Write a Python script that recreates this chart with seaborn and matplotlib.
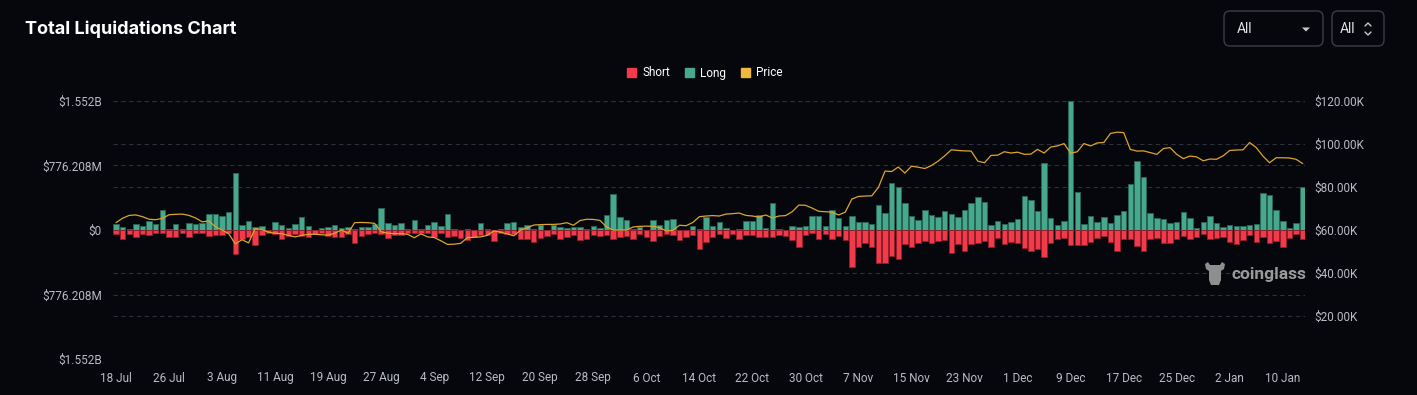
import numpy as np
import pandas as pd
import matplotlib.pyplot as plt
import seaborn as sns
from matplotlib.patches import FancyBboxPatch, Patch, Polygon
from matplotlib.lines import Line2D
from matplotlib.transforms import IdentityTransform

# daily liquidations (millions USD)
long_m = [72, 36, 16, 68, 48, 108, 72, 236, 10, 72, 16, 88, 72, 88, 192, 192, 172, 212, 686, 64,
          104, 36, 52, 5, 96, 64, 24, 68, 160, 52, 3, 28, 36, 56, 28, 32, 12, 36, 36, 76,
          264, 80, 60, 80, 8, 116, 8, 56, 92, 48, 196, 8, 4, 8, 3, 84, 12, 2, 8, 80,
          92, 36, 56, 16, 56, 3, 64, 36, 24, 36, 36, 12, 48, 24, 176, 433, 156, 120, 10, 32,
          5, 116, 64, 116, 128, 5, 5, 52, 8, 160, 48, 100, 20, 4, 12, 104, 108, 176, 20, 324,
          8, 4, 48, 40, 44, 172, 164, 48, 240, 144, 48, 164, 96, 100, 68, 296, 200, 561, 521, 321,
          168, 120, 240, 176, 156, 224, 188, 160, 236, 329, 397, 337, 60, 108, 72, 96, 132, 413, 365, 232,
          802, 144, 64, 108, 1552, 461, 72, 168, 92, 152, 80, 176, 228, 557, 830, 638, 200, 144, 128, 80,
          92, 212, 140, 24, 96, 164, 84, 40, 64, 48, 52, 56, 72, 445, 421, 240, 104, 28, 80, 513]

short_m = [48, 112, 52, 80, 48, 56, 40, 40, 84, 80, 32, 80, 40, 40, 72, 56, 56, 40, 292, 112,
           80, 180, 56, 40, 48, 112, 72, 48, 72, 80, 48, 40, 72, 80, 80, 48, 160, 72, 48, 32,
           48, 92, 56, 56, 40, 40, 40, 40, 80, 40, 88, 72, 100, 120, 80, 64, 64, 128, 32, 52,
           48, 104, 104, 144, 92, 68, 52, 104, 84, 56, 116, 104, 56, 68, 56, 104, 84, 68, 104, 48,
           80, 128, 72, 48, 64, 116, 80, 56, 228, 148, 80, 48, 92, 48, 104, 64, 64, 80, 88, 84,
           56, 68, 116, 208, 64, 40, 104, 52, 108, 68, 124, 448, 208, 152, 208, 400, 392, 312, 344, 168,
           208, 152, 136, 160, 132, 120, 280, 172, 252, 164, 160, 136, 208, 100, 172, 144, 160, 212, 248, 224,
           320, 156, 104, 92, 180, 176, 176, 144, 100, 72, 144, 248, 108, 108, 188, 248, 104, 96, 160, 160,
           104, 68, 104, 80, 48, 112, 100, 88, 144, 172, 116, 64, 148, 80, 156, 128, 200, 100, 52, 112]

# BTC price (thousands USD)
price_k = [63.4, 65.5, 66.8, 67.0, 66.2, 65.0, 64.8, 65.4, 67.1, 67.3, 67.4, 66.8, 65.6, 63.8, 64.2, 61.5, 60.0, 58.3, 53.5, 55.5,
           54.0, 60.7, 60.2, 59.0, 58.5, 58.3, 57.5, 56.8, 57.5, 58.0, 58.0, 57.8, 57.6, 58.5, 60.0, 58.5, 63.4, 63.5, 63.4, 63.1,
           59.2, 58.5, 58.3, 58.3, 58.0, 56.4, 58.2, 56.8, 56.5, 55.0, 53.3, 53.4, 53.8, 56.5, 56.6, 56.8, 57.5, 59.6, 59.0, 58.2,
           57.3, 59.9, 61.0, 62.3, 62.5, 62.6, 62.6, 62.8, 63.4, 62.2, 64.4, 65.0, 64.9, 64.5, 61.4, 60.0, 60.0, 60.0, 61.4, 61.7,
           61.8, 61.7, 61.1, 59.6, 59.8, 62.2, 62.0, 63.5, 66.2, 66.5, 66.7, 66.5, 67.4, 67.6, 67.9, 66.8, 66.5, 66.0, 67.0, 65.6,
           66.5, 66.7, 68.5, 71.6, 71.5, 70.2, 68.7, 68.5, 68.3, 67.0, 68.3, 74.4, 75.6, 75.8, 75.9, 79.8, 87.4, 87.2, 89.3, 86.5,
           89.7, 89.2, 88.6, 90.0, 92.0, 94.5, 97.3, 97.0, 96.8, 96.7, 92.0, 91.3, 94.7, 94.8, 96.4, 95.8, 96.2, 95.2, 95.3, 97.5,
           95.8, 98.6, 99.1, 100.2, 95.7, 96.4, 100.2, 99.1, 100.5, 100.7, 104.9, 105.5, 105.3, 97.5, 96.7, 96.8, 96.0, 95.2, 97.9, 98.3,
           95.2, 93.2, 94.4, 94.0, 92.2, 93.0, 92.9, 94.5, 97.0, 97.2, 97.3, 100.7, 98.3, 94.4, 91.3, 93.6, 93.6, 93.5, 92.9, 90.9]

dates = pd.date_range("2024-07-18", periods=len(long_m), freq="D")
tick_idx = list(range(0, len(dates), 8))
tick_labels = [f"{d.day} {d.strftime('%b')}" for d in dates[tick_idx]]

left_ticks = [-1.552e9, -776.208e6, 0, 776.208e6, 1.552e9]
left_labels = ["$1.552B", "$776.208M", "$0", "$776.208M", "$1.552B"]
right_ticks = [20000, 40000, 60000, 80000, 100000, 120000]
right_labels = ["$20.00K", "$40.00K", "$60.00K", "$80.00K", "$100.00K", "$120.00K"]

df = pd.DataFrame({
    "day": np.arange(len(dates)),
    "long": np.array(long_m) * 1e6,
    "short": -np.array(short_m) * 1e6,
    "price": np.array(price_k) * 1e3,
})

BG = "#05070c"
GREEN = "#47a88e"
RED = "#f23a4a"
GOLD = "#dca52c"
TXT = "#b9bcc3"
GRID = "#2c3038"

sns.set_theme(style="dark", rc={"figure.facecolor": BG, "axes.facecolor": BG})
plt.rcParams["font.family"] = ["Roboto", "DejaVu Sans"]

fig = plt.figure(figsize=(14.17, 3.95), dpi=100)
ax = fig.add_axes([113 / 1417, 36 / 395, 1192 / 1417, 258 / 395])

# gridlines behind the bars (left ticks and the price ticks of the right axis)
ymax = 1.552e9
for v in left_ticks:
    ax.axhline(v, color=GRID, lw=0.8, ls=(0, (4, 3)), zorder=0)
for p in right_ticks:
    ax.axhline(p / 120000 * 2 * ymax - ymax, color=GRID, lw=0.8, ls=(0, (4, 3)), zorder=0)

sns.barplot(data=df, x="day", y="long", color=GREEN, saturation=1, width=0.82,
            edgecolor="#256453", linewidth=0.7, ax=ax, zorder=2)
sns.barplot(data=df, x="day", y="short", color=RED, saturation=1, width=0.82,
            edgecolor="#8e1f2a", linewidth=0.7, ax=ax, zorder=2)

ax.set_xlim(-0.45, len(dates) - 0.65)
ax.set_ylim(-ymax, ymax)
ax.set_yticks(left_ticks)
ax.set_yticklabels(left_labels)
ax.set_xticks(tick_idx)
ax.set_xticklabels(tick_labels)
ax.set_xlabel("")
ax.set_ylabel("")
ax.tick_params(axis="both", length=0, colors=TXT, labelsize=8.5)
ax.tick_params(axis="x", pad=9)
ax.tick_params(axis="y", pad=8)
for s in ax.spines.values():
    s.set_visible(False)
ax.grid(False)

ax2 = ax.twinx()
sns.lineplot(data=df, x="day", y="price", color=GOLD, lw=0.9, ax=ax2)
ax2.set_ylim(0, 120000)
ax2.set_yticks(right_ticks)
ax2.set_yticklabels(right_labels)
ax2.set_ylabel("")
ax2.tick_params(axis="y", length=0, colors=TXT, labelsize=8.5, pad=7)
ax2.grid(False)
for s in ax2.spines.values():
    s.set_visible(False)

# title
fig.text(25 / 1417, 1 - 29 / 395, "Total Liquidations Chart", color="white",
         fontsize=13, fontweight="bold", family=["Inter", "DejaVu Sans"], va="center")

# legend
handles = [Patch(facecolor=RED, edgecolor=RED), Patch(facecolor=GREEN, edgecolor=GREEN),
           Patch(facecolor="#efb93c", edgecolor="#efb93c")]
fig.legend(handles, ["Short", "Long", "Price"], loc="center", bbox_to_anchor=(705 / 1417, 1 - 73 / 395),
           ncol=3, frameon=False, handlelength=0.75, handleheight=0.75, handletextpad=0.5,
           columnspacing=1.3, fontsize=8.5, labelcolor="white")

# dropdown boxes in pixel coords
idt = IdentityTransform()
for x0, w in [(1224, 99), (1332, 52)]:
    fig.patches.append(FancyBboxPatch((x0, 349), w, 35, boxstyle="round,pad=0,rounding_size=6",
                                      transform=idt, facecolor=BG, edgecolor="#3b3e46", lw=1))
fig.text(1237 / 1417, 1 - 29 / 395, "All", color="#e3e4e7", fontsize=10, va="center")
fig.text(1340 / 1417, 1 - 29 / 395, "All", color="#e3e4e7", fontsize=10, va="center")
fig.patches.append(Polygon([(1302, 367.5), (1310, 367.5), (1306, 363.5)], closed=True,
                           transform=idt, facecolor="#c8c9cd", edgecolor="none"))
fig.lines.append(Line2D([1365, 1368, 1371], [369, 372, 369], transform=idt, color="#c8c9cd", lw=1))
fig.lines.append(Line2D([1365, 1368, 1371], [363, 360, 363], transform=idt, color="#c8c9cd", lw=1))

# watermark: rough bull-head logo + wordmark
logo = [(1205, 131), (1208, 133), (1210, 130), (1220, 130), (1222, 133), (1225, 131),
        (1224, 126), (1221, 124), (1221, 115), (1219, 110), (1211, 110), (1209, 115),
        (1209, 124), (1206, 126)]
fig.patches.append(Polygon(logo, closed=True, transform=idt, facecolor="#8e8e8e", edgecolor="none"))
fig.text(1232 / 1417, 1 - 275 / 395, "coinglass", color="#9a9a9a", fontsize=12.5,
         fontweight="bold", va="center")

fig.savefig("out.png", dpi=100, facecolor=BG)
